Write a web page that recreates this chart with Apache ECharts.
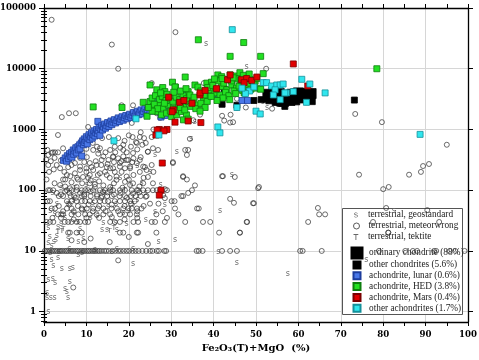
<!DOCTYPE html>
<html><head><meta charset="utf-8">
<script src="https://cdn.jsdelivr.net/npm/echarts@6/dist/echarts.min.js"></script>
<style>html,body{margin:0;padding:0;background:#fff}#c{width:479px;height:360px}</style>
</head><body><div id="c"></div>
<script>
// ---------- DATA ----------
// terrestrial, meteorwrong: quantized rows (x values at a fixed Cr)
const mwRow10 = [0.2,0.6,1.0,1.4,1.9,2.3,2.7,3.1,3.6,4.0,4.4,4.9,5.3,5.7,6.2,6.6,7.0,7.5,7.9,8.3,8.8,9.2,9.6,10.1,10.5,10.9,11.4,11.8,12.2,12.7,13.1,13.6,14.2,14.7,15.3,16.1,16.8,17.5,18.1,18.8,19.5,20.1,20.9,21.6,22.3,23.2,24.1,25.0,25.6,26.6,27.1,28.4,28.8,36.0,36.5,37.4,42.0,43.9,45.5,60.4,61.0,65.5,79.0,85.2,87.0,88.0,92.0,92.5,95.7,97.0,99.2];
const mwRow100 = [1.0,2.2,5.4,6.5,7.7,8.9,9.7,10.4,11.6,13.2,14.4,15.6,16.3,17.9,19.1,20.7,22.2,23.4,24.5,25.7,27.4,29.0];
const mwRow80 = [3.5,4.5,6.3,7.1,8.9,9.5,11.0,12.5,13.7,14.9,16.0,17.8,19.1,20.5,21.6,22.8,24.2,32.4];
const mwRow66 = [0.8,1.4,5.4,6.5,7.7,8.9,9.7,10.8,12.0,13.2,14.3,15.1,16.7,17.9,19.1,20.3,21.4,30.1,30.8];
const mwRow50 = [1.8,2.6,5.4,6.5,8.9,10.1,11.6,12.7,14.0,15.9,17.2,18.7,19.9,20.7,21.9,23.0,30.9,36.1,36.5];
const mwRow40 = [3.3,4.1,4.5,6.5,8.1,9.7,10.8,12.4,14.0,15.6,17.9,19.1,20.3,21.9,26.5,31.7];
const mwRow30 = [0.6,1.4,2.2,4.9,5.7,6.5,7.7,8.5,9.7,10.4,15.6,16.7,17.9,21.1,22.2,25.4,26.2,28.5,33.3,37.5,39.2,47.9,62.3,77.6,93.2];
const mwRow20 = [5.7,6.1,7.7,8.9,17.9,18.7,21.9,22.2,26.5,41.3,46.2,81.2];
// terrestrial, meteorwrong: scattered points [x, Cr]
const mwScatter = [
[1.8,64000],[16,25000],[17.5,10000],[31,40000],[52.4,10000],[4.2,1600],[5.9,1850],[7.5,1850],[3.3,810],[10.4,1100],
[18.3,2500],[21,2500],[25.4,5800],[37.7,5800],[26.6,1850],[27.4,1550],[25.8,1000],[25.4,750],[24.5,430],[30.4,280],
[33.3,460],[34.4,700],[35.2,1420],[36.8,1750],[42,1680],[42.5,1400],[43.9,1300],[44,1750],[44.6,1320],[45.5,3200],
[45.5,2280],[47.6,2300],[53.8,2200],[73.4,1800],[79.7,1320],[95,560],[90.8,270],[89.4,250],[88.9,200],[86.1,180],
[74.3,180],[42,170],[32.8,170],[23.6,720],[22.6,750],[20.7,1280],[20.9,750],[21.7,620],[18.7,560],[16.7,520],
[15.3,750],[13.7,720],[13.2,490],[11.6,460],[10.1,350],[8.5,340],[5.7,240],[3,260],[1,380],[2.1,420],
[4.5,490],[1,260],[0.5,320],[1.6,300],[26.9,460],[25.7,490],[25.4,260],[30.4,290],[34,460],[33.7,380],
[32.8,165],[33.7,150],[35.6,120],[34.9,100],[34,90],[32.8,80],[42.2,170],[45,165],[43.9,72],[44.8,62],
[49.3,61],[50.5,108],[50.7,113],[49.5,61],[47.8,30],[46.2,20],[64.6,51],[64.9,40],[66.3,40],[80.7,51],
[81.2,20],[90.4,47],[80,104],[81.3,113],[28.1,83],[26.6,100],[25.7,130],[28.5,74],[28.5,104],[17.5,7],[6.9,2.5],
[14,360],[15.2,315],[16.3,360],[17.5,335],[18.7,360],[19.9,315],[21.1,335],[17.9,245],[19.1,230],[20.3,245],
[15.6,230],[16.7,200],[14.8,178],[13.2,190],[11.6,215],[10.8,178],[10,200],[8.5,245],[7.3,190],[5.4,178],
[17.1,168],[19.5,168],[21.1,178],[22.6,200],[23.4,245],[21.9,278],[24.2,215],
[4.5,150],[6.5,260],[7.3,280],[8.5,215],[10,230],[11.2,240],[9.2,165],[10.4,160],[12.4,260],[13.6,315],
[14.4,200],[15.6,460],[16.3,350],[17.5,720],[18.7,460],[17.9,280],[19.5,315],[20.3,230],[21,410],[21.9,600],
[22.6,315],[23.8,240],[24.5,430],[25.8,200],[19.1,137],[17.1,148],[15.6,113],[20.3,122],[21.9,100],[13.9,94],
[12,113],[7.7,113],[6.1,108],[3.8,122],[1.4,100],[23.4,130],[24.5,165],[16.3,230],[18.3,200],[14.8,240],
[12.7,178],[10.8,130],[1.8,410],[2.6,420],[3.3,420],
[3,90],[4,85],[5,95],[6,90],[7.5,75],[8.5,90],[9.5,85],[11,95],[12.5,85],[13.5,75],[15,92],[16.5,85],[18,90],
[19.5,75],[21,88],[22.5,92],[24,78],[3.5,55],[4.5,45],[6,58],[7,45],[8,55],[9,48],[10.5,58],[11.5,45],[13,55],
[14.5,45],[16,58],[17.5,45],[19,55],[20.5,60],[22,45],[23.5,55],[25,60],[2,35],[4,35],[7,33],[10,35],[13,35],
[16,36],[19,33],[22,35],[6.5,15],[9.5,14],[11,16],[15.5,14],[20,17],[24.5,13],[27,60],[28,45],[29,35],
[12,125],[13,140],[14,120],[15.5,160],[16.5,130],[18.5,110],[20,150],[21,130],[22.5,115],[23.5,160],[11,145],
[9,130],[8,150],[6.5,135],[5,115],[2.5,130],[13.5,260],[12.2,300],[10.8,280],[9.5,290],[15,270],[16.5,290],
[18.2,300],[20.8,290],[22.8,350],[12.8,400],[14.5,420],[16.8,420],[18,500],[19.5,420],[20.5,520],[22,470],
[23.2,560],[19,650],[20,800],[22.8,900],[24,600],[11.5,600],[12.5,520],[10,480],[9,420],[7,390],[6,330],
[4,310],[2.5,340],[0.8,460],[3.8,230],[2.3,220],[1.2,200],[4.8,200],[7.8,160],[6.2,170],[5,150],[0.6,150]
];
// terrestrial, geostandard ("s")
const geostd = [
[1,1],[0.7,1.7],[1.6,1.7],[2.5,1.7],[0.7,2],[1,3.3],[2.1,3.5],[2.6,3],[5,2.4],[5.4,2.1],[5.7,1.7],[6.1,3.1],
[4.2,5],[6.1,5.1],[6.8,5.2],[1.8,7],[2.2,5.6],[3.3,7.6],[8.1,8.6],[1,13.5],[1.8,12],[2.3,14],[2.8,15],[3,18],
[1,24],[1.4,17],[3.3,25],[5.7,16],[8.1,20],[8.5,23],[8.1,14],[9.3,15.6],[7.1,42],[11.6,62],[14,29],[13.7,22],
[14.9,22],[17.2,22],[16.8,29],[18.7,42],[21,6.1],[17.2,11],[27,14],[30.9,15],[28.5,57],[26.2,44],[41.5,45],
[41.1,9.6],[45.5,6.3],[15.1,53],[57.5,4.2],[76,7.1],[82.5,45],[38.2,26000],[34.7,700],[35.6,1320],[31.3,430],
[26.2,380],[47.8,10700],[51.7,2850],[52.6,2240],[58.5,4300],[44.3,178],[1.5,9.3],[3.5,9.5],[6,10.6],[9,9.4],
[12,10.5],[16,9.5],[21,10.6],[2.5,40],[4,28],[5.5,60],[9.5,48],[12.5,38],[19.5,28],[22,70],[24,32],[10,120],
[12,150],[14,90],[19,300],[21,60],[22,250],[24,90],[13,450],[6,60],[8,30],[11,35],[17,60],[20,45],[23,130],
[4,110],[2,90],[3,60],[1.5,45],[5,35],[7,70],[18,160],[16,110],[25,200],[27.5,120]
];
// terrestrial, tektite ("T")
const tektite = [[3.3,20.5],[4.2,21],[7.3,108],[15.5,21],[19,100],[16.5,24],[4.5,23]];
// ordinary chondrite (large black squares)
const ordChondrite = [[53,3800],[53.5,3200],[54.5,3500],[55.5,3900],[56,3200],[57,3600],[57.8,3300],[58.5,3800],
[59.5,3500],[60.5,3300],[61.5,3600],[62.5,3400],[63,3900],[62.8,3100],[54.2,4100],[58,3000],[56.5,2900],[60,4000],
[55,3000],[61.8,3900],[52.8,3400]];
// other chondrites
const otherChondrites = [[49.5,3000],[56.8,2400],[58.4,2970],[59.6,2850],[73.2,3050],[42,2600],[42.5,4600],
[55.6,2700],[61,3300],[45.5,2500],[51.2,3100]];
// achondrite, lunar
const lunar = [[4.6,310],[5.0,340],[5.3,300],[5.5,370],[5.8,330],[6.0,400],[6.2,360],[6.5,420],[6.6,350],[6.9,460],
[7.0,390],[7.3,440],[7.5,500],[7.7,410],[8.0,520],[8.1,460],[8.4,560],[8.5,480],[8.8,600],[8.9,365],[9.1,650],
[9.3,560],[9.5,700],[9.6,610],[9.9,660],[10.0,760],[10.2,580],[10.4,720],[10.6,820],[10.8,680],[11.0,760],
[11.2,880],[11.4,720],[11.6,820],[11.8,950],[12.0,780],[12.2,880],[12.4,1000],[12.7,1360],[12.6,850],[12.8,950],
[13.0,1080],[13.2,800],[13.4,1020],[13.6,1150],[13.8,980],[14.0,1100],[14.3,1230],[14.5,1050],[14.8,1150],
[15.0,1300],[15.3,1120],[15.5,1250],[15.8,1380],[16.0,1200],[16.3,1320],[16.6,1450],[16.9,1280],[17.2,1400],
[17.5,1550],[17.8,1350],[18.1,1480],[18.4,1620],[18.7,1420],[19.0,1560],[19.3,1700],[19.6,1500],[19.9,1640],
[20.2,1780],[20.5,1580],[20.8,1720],[21.1,1900],[21.4,1650],[21.7,1820],[22.0,2000],[22.3,1750],[22.6,1900],
[22.9,2100],[23.2,1800],[23.5,1980],[23.8,2200],[24.1,1900],[24.4,2100],[24.7,2300],[25.0,2000],
[26,3000],[27.6,1600],[28.5,1700],[30,2200],[31,1800],[32.5,2500],[41,3400],[46.7,3000],[48,3000],[29,2000],[33,3800]];
// achondrite, HED
const hed = [[36.4,30000],[43.9,16000],[47.1,27000],[51.1,16000],[78.5,10000],[51.7,8300],[33.3,7300],[25,5400],
[11.6,2350],[18.4,2300],[23.4,2800],[24.3,1650],[30.3,6000],[31,5000],
[26.6,4500],[28,4900],[28.5,4200],[30.9,5000],[34,4200],[35.6,5400],[36.3,5000],
[25,2880],[25.8,2380],[27,2540],[28.1,2240],[29.3,2540],[30.5,2240],[31.7,2710],[32.9,2380],[34,2880],[35.2,3070],
[36.4,2540],[37.6,3280],[38.8,3480],[39.9,3960],[26.6,1970],[27.7,1740],[28.9,1860],[30.1,1630],[31.3,1740],
[32.4,1970],[33.6,1740],[32.9,1440],[34,1480],[25.5,3300],[26.3,3600],[27.2,3100],[27.9,3500],[28.8,3000],
[29.6,3300],[30.4,2900],[31.2,3400],[32,3100],[32.8,3600],[33.6,3200],[34.4,3700],[35.4,3400],[26,2600],
[26.8,2200],[28.4,2700],[29.8,2000],[31,2100],[32.2,2300],[33.2,2100],[34.6,2400],[35.8,2200],[37,2700],
[38,2300],[36.8,2000],[38.5,2900],[29,3800],[30.6,4100],[32.2,4300],[33.5,4700],[27.5,4000],[25.5,2000],[24.6,2300],
[38.4,5800],[39.5,6000],[41,7900],[41.9,7400],[43.1,6600],[43.9,7900],[45,7600],[46.2,8600],[47.8,7300],[48.6,6600],
[49.8,6200],[51,4700],[41.9,5100],[43.1,4500],[44.3,5400],[45.4,4800],[46.6,5800],[47.4,5100],[39.2,4500],
[40.3,4000],[41.5,3700],[37,4300],[37.8,3700],[38.6,4900],[39.8,5300],[40.6,4600],[41.2,6300],[42.4,5800],
[42.8,4100],[43.6,3600],[44.2,6300],[44.8,4300],[45.6,6800],[46,5200],[46.8,4400],[47.6,6200],[48.2,5500],
[48.8,4600],[49.4,5300],[42,6900],[40.2,6800],[44.6,7100],[46.4,6500],[47,7800],[48.4,8200],[45.2,3900],
[43.8,3100],[42.2,3300],[40.8,3000],[39.4,3500],[47.2,4000],[49.5,5800],[50.2,6900],[47.4,4000],[49.5,4800],[51.1,4600]];
// achondrite, Mars
const mars = [[29.4,3400],[30.5,2100],[30.9,1320],[34,1380],[37,1300],[27.2,1000],[26.4,810],[29,1000],[27.9,280],
[36.8,3700],[40.7,4700],[43.3,6600],[27.6,100],[27.2,83],[58.8,12000],[62.2,5200],[46.6,6600],[47.8,6900],[49,6400],
[50.2,7300],[47.2,5900],[36.8,4000],[43.9,7900],[34.9,2700],[30.2,1960],[26.7,980],[32,2800],[38,4400],[33,3000],[28.3,950]];
// other achondrites
const otherAch = [[44.4,44000],[21.7,1500],[16.5,650],[27.1,810],[41,1100],[41.5,880],[45.5,2300],[88.7,830],
[51.7,5900],[52.5,5900],[53.7,5200],[54.9,5400],[55.7,5400],[56.4,5600],[54.5,4500],[54.1,3700],[55.7,3100],
[57.2,4000],[56.8,4000],[58.8,4200],[60.8,6700],[62.7,5600],[66.3,4000],[61.9,2800],[48.5,4300],[49.5,5000],
[50,2000],[51,1800],[47.5,3900],[46.7,4800]];
// axis ticks
const yMajor = [1,10,100,1000,10000,100000];
const names = ['terrestrial, geostandard','terrestrial, meteorwrong','terrestrial, tektite','ordinary chondrite (88%)',
'other chondrites (5.6%)','achondrite, lunar (0.6%)','achondrite, HED (3.8%)','achondrite, Mars (0.4%)','other achondrites (1.7%)'];

// ---------- build ----------
const rowPts = (xs, y) => xs.map(x => [x, y]);
const meteorwrong = [].concat(rowPts(mwRow10,10), rowPts(mwRow100,100), rowPts(mwRow80,80), rowPts(mwRow66,66),
  rowPts(mwRow50,50), rowPts(mwRow40,40), rowPts(mwRow30,30), rowPts(mwRow20,20), mwScatter);
const yMinor = [0.7,0.8,0.9];
[1,10,100,1000,10000].forEach(d => { for (let k = 2; k <= 9; k++) yMinor.push(k*d); });

const SERIF = '"DejaVu Serif", serif';
const textSeries = (name, data, ch, size, color) => ({
  type: 'custom', name, data, z: 2,
  itemStyle: {color},
  renderItem: (params, api) => {
    const p = api.coord([api.value(0), api.value(1)]);
    return {type: 'text', x: p[0], y: p[1], style: {text: ch, fill: color, font: size + 'px "DejaVu Sans"', align: 'center', verticalAlign: 'middle'}};
  }
});
const sq = (name, data, size, fill, border) => ({
  type: 'scatter', name, data, symbol: 'rect', symbolSize: size,
  itemStyle: {color: fill, borderColor: border, borderWidth: 0.8, opacity: 1}
});

const yBase = {type: 'log', logBase: 10, min: 0.676, max: 100000, gridIndex: 0};
const chart = echarts.init(document.getElementById('c'));
const sPath = 'path://M8,2.2C7.2,0.9 5.8,0.3 4.4,0.3 2.4,0.3 1,1.4 1,3 1,4.8 2.6,5.3 4.6,5.8 6,6.2 6.6,6.6 6.6,7.4 6.6,8.4 5.6,9 4.4,9 3.2,9 2.2,8.4 1.6,7.4L0.6,8.2C1.4,9.5 2.8,10 4.4,10 6.6,10 8,8.9 8,7.2 8,5.5 6.6,4.9 4.6,4.4 3.1,4 2.4,3.7 2.4,2.9 2.4,1.9 3.3,1.3 4.4,1.3 5.5,1.3 6.4,1.8 7,2.8Z';
const tPath = 'path://M0,0H8V1.5H4.75V10H3.25V1.5H0Z';
const legText = (padLeft) => ({fontFamily: '"Liberation Serif", serif', fontSize: 9.3, color: '#222', lineHeight: 10, padding: [0,0,0,padLeft]});
const leg = (top, left, w, h, padLeft, data, gap) => ({z: 1.5, orient: 'vertical', padding: 0, left, top, itemWidth: w, itemHeight: h,
  itemGap: gap || 0, selectedMode: false, textStyle: legText(padLeft), data});

chart.setOption({
  animation: false,
  backgroundColor: '#fff',
  grid: {left: 44, right: 11, top: 8, bottom: 38, containLabel: false, outerBoundsMode: 'none'},
  graphic: [{type: 'rect', z: 1, shape: {x: 342.5, y: 208.5, width: 120, height: 106}, style: {fill: '#fff', stroke: '#555', lineWidth: 1}}],
  legend: [
    leg(210, 354, 4, 5, 5, [{name: names[0], icon: sPath, itemStyle: {color: '#666'}}]),
    leg(221, 353, 6, 6, 4, [{name: names[1], icon: 'circle', itemStyle: {color: '#fff', borderColor: '#333', borderWidth: 1}}]),
    leg(232, 353.5, 5, 6, 4.5, [{name: names[2], icon: tPath, itemStyle: {color: '#666'}}]),
    leg(246.5, 350.5, 11, 11, 1.5, [{name: names[3], icon: 'rect'}]),
    leg(260, 352.5, 7, 7, 3.5, [{name: names[4], icon: 'rect'}, {name: names[5], icon: 'rect'}, {name: names[6], icon: 'rect'},
            {name: names[7], icon: 'rect'}, {name: names[8], icon: 'rect'}], 0.8)
  ],
  xAxis: [
    {type: 'value', min: 0, max: 100, interval: 10, position: 'bottom',
     axisLine: {show: true, onZero: false, lineStyle: {color: '#000', width: 1.3}},
     axisTick: {show: true, length: 4, lineStyle: {color: '#000'}},
     axisLabel: {fontFamily: SERIF, fontWeight: 'bold', fontSize: 8.6, color: '#000', margin: 8},
     splitLine: {show: true, lineStyle: {color: '#d6d6d6', width: 1}},
     name: 'Fe\u2082O\u2083(T)+MgO  (%)', nameLocation: 'middle', nameGap: 14,
     nameTextStyle: {fontFamily: SERIF, fontWeight: 'bold', fontSize: 10, color: '#000', verticalAlign: 'top'}},
    {type: 'value', min: 0, max: 100, interval: 5, position: 'bottom',
     axisLine: {show: false}, axisTick: {show: true, length: 4, lineStyle: {color: '#000'}}, axisLabel: {show: false}, splitLine: {show: false}},
    {type: 'value', min: 0, max: 100, interval: 5, position: 'top',
     axisLine: {show: true, onZero: false, lineStyle: {color: '#000', width: 1.3}}, axisTick: {show: true, length: 4, lineStyle: {color: '#000'}},
     axisLabel: {show: false}, splitLine: {show: false}}
  ],
  yAxis: [
    Object.assign({}, yBase, {position: 'left',
     axisLine: {show: true, onZero: false, lineStyle: {color: '#000', width: 1.3}},
     axisTick: {show: true, length: 5, customValues: yMajor, lineStyle: {color: '#000'}},
     axisLabel: {customValues: yMajor, fontFamily: SERIF, fontWeight: 'bold', fontSize: 8.6, color: '#000', margin: 8,
       formatter: v => String(Math.round(v))},
     splitLine: {show: true, lineStyle: {color: '#d6d6d6', width: 1}},
     name: 'Cr  (ppm)', nameLocation: 'middle', nameGap: 30,
     nameTextStyle: {fontFamily: SERIF, fontWeight: 'bold', fontSize: 10, color: '#000'}}),
    Object.assign({}, yBase, {position: 'left', axisLine: {show: false},
     axisTick: {show: true, length: 3, customValues: yMinor, lineStyle: {color: '#000'}}, axisLabel: {show: false}, splitLine: {show: false}}),
    Object.assign({}, yBase, {position: 'right',
     axisLine: {show: true, onZero: false, lineStyle: {color: '#000', width: 1.3}},
     axisTick: {show: true, length: 5, customValues: yMajor, lineStyle: {color: '#000'}}, axisLabel: {show: false}, splitLine: {show: false}}),
    Object.assign({}, yBase, {position: 'right', axisLine: {show: false},
     axisTick: {show: true, length: 3, customValues: yMinor, lineStyle: {color: '#000'}}, axisLabel: {show: false}, splitLine: {show: false}})
  ],
  series: [
    textSeries(names[0], geostd, 's', 8, '#6a6a6a'),
    {type: 'scatter', name: names[1], data: meteorwrong, symbol: 'circle', symbolSize: 5,
     itemStyle: {color: 'rgba(255,255,255,0)', borderColor: '#333', borderWidth: 0.9}},
    textSeries(names[2], tektite, 'T', 7, '#555'),
    sq(names[3], ordChondrite, 10, '#000', '#000'),
    sq(names[4], otherChondrites, 6, '#000', '#000'),
    sq(names[5], lunar, 6, '#4a78e8', '#1c3c9c'),
    sq(names[6], hed, 6, '#22e022', '#0d7d0d'),
    sq(names[7], mars, 6, '#e00000', '#7a0000'),
    sq(names[8], otherAch, 6, '#30e6ee', '#14909a')
  ]
});
</script></body></html>
